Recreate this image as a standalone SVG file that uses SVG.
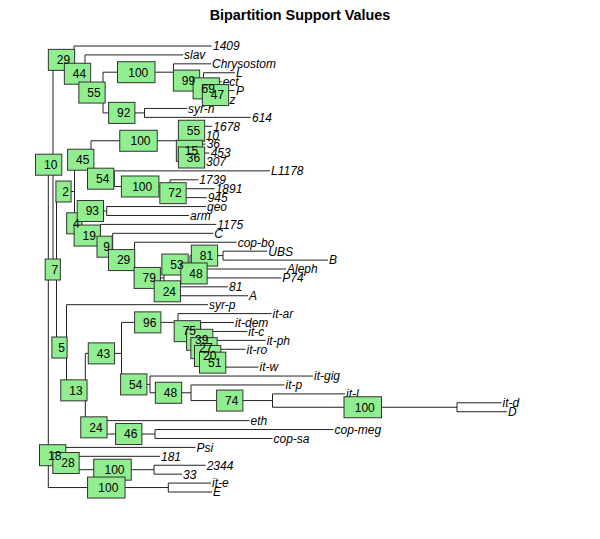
<svg xmlns="http://www.w3.org/2000/svg" width="600" height="539" viewBox="0 0 600 539">
<style>
.e{stroke:#222;stroke-width:1;fill:none}
.t{font-family:"Liberation Sans",Arial,sans-serif;font-style:italic;font-size:12px;fill:#000}
.f rect{fill:#90EE90;stroke:#333;stroke-width:1}
.b text{font-family:"Liberation Sans",Arial,sans-serif;font-size:12px;text-anchor:middle;fill:#000}
.ti{font-family:"Liberation Sans",Arial,sans-serif;font-weight:bold;font-size:14.4px;text-anchor:middle}
</style>
<rect width="600" height="539" fill="#fff"/>
<text class="ti" x="300" y="20">Bipartition Support Values</text>
<g id="edges" class="e">
<path d="M48.3,164.69V487.54M48.3,164.69H53M48.3,455.2H61M48.3,487.54H168.3"/>
<path d="M53,59.87V269.51M53,59.87H74M53,269.51H56.5"/>
<path d="M74,46V73.74M74,46H211.7M74,73.74H85"/>
<path d="M85,54.92V92.55M85,54.92H183M85,92.55H103"/>
<path d="M103,72.2V112.9M103,72.2H173.5M103,112.9H144.5"/>
<path d="M173.5,63.84V80.57M173.5,63.84H211M173.5,80.57H203.5"/>
<path d="M203.5,72.76V88.37M203.5,72.76H235M203.5,88.37H213"/>
<path d="M213,81.68V95.06M213,81.68H221.7M213,95.06H222"/>
<path d="M222,90.6V99.52M222,90.6H234.5M222,99.52H228.5"/>
<path d="M144.5,108.44V117.36M144.5,108.44H187M144.5,117.36H250.7"/>
<path d="M56.5,191.51V347.52M56.5,191.51H74.5M56.5,347.52H66.5"/>
<path d="M74.5,159.73V223.29M74.5,159.73H91M74.5,223.29H78"/>
<path d="M91,140.78V178.69M91,140.78H190M91,178.69H114.3"/>
<path d="M190,130.74V150.81M190,130.74H197M190,150.81H193"/>
<path d="M197,126.28V135.2M197,126.28H212M197,135.2H204.5"/>
<path d="M193,144.12V157.5M193,144.12H205.5M193,157.5H194"/>
<path d="M194,153.04V161.96M194,153.04H209.5M194,161.96H205"/>
<path d="M114.3,170.88V186.49M114.3,170.88H270M114.3,186.49H170"/>
<path d="M170,179.8V193.18M170,179.8H198.3M170,193.18H180"/>
<path d="M180,188.72V197.64M180,188.72H214.7M180,197.64H206.7"/>
<path d="M78,211.02V235.55M78,211.02H106.7M78,235.55H100.5"/>
<path d="M106.7,206.56V215.48M106.7,206.56H206M106.7,215.48H189"/>
<path d="M100.5,224.4V246.7M100.5,224.4H216.3M100.5,246.7H112.7"/>
<path d="M112.7,233.32V260.08M112.7,233.32H213.3M112.7,260.08H134.5"/>
<path d="M134.5,242.24V277.92M134.5,242.24H236.7M134.5,277.92H164"/>
<path d="M164,264.54V291.3M164,264.54H190M164,291.3H174.7"/>
<path d="M190,255.62V273.46M190,255.62H223M190,273.46H202"/>
<path d="M223,251.16V260.08M223,251.16H267.3M223,260.08H328"/>
<path d="M202,269V277.92M202,269H286M202,277.92H281.3"/>
<path d="M174.7,286.84V295.76M174.7,286.84H228M174.7,295.76H248"/>
<path d="M66.5,304.68V390.36M66.5,304.68H208M66.5,390.36H85.3"/>
<path d="M85.3,353.39V427.33M85.3,353.39H121.5M85.3,427.33H106.5"/>
<path d="M121.5,322.38V384.4M121.5,322.38H178M121.5,384.4H150"/>
<path d="M178,313.6V331.16M178,313.6H271.5M178,331.16H200.7"/>
<path d="M200.7,322.52V339.8M200.7,322.52H234M200.7,339.8H202.7"/>
<path d="M202.7,331.44V348.17M202.7,331.44H247.3M202.7,348.17H209.3"/>
<path d="M209.3,340.36V355.97M209.3,340.36H265.7M209.3,355.97H210"/>
<path d="M210,349.28V362.66M210,349.28H245.5M210,362.66H219.3"/>
<path d="M219.3,358.2V367.12M219.3,367.12H258.5"/>
<path d="M150,376.04V392.77M150,376.04H313M150,392.77H191"/>
<path d="M191,384.96V400.57M191,384.96H284.5M191,400.57H272.5"/>
<path d="M272.5,393.88V407.26M272.5,393.88H345M272.5,407.26H457"/>
<path d="M457,402.8V411.72M457,402.8H501.5M457,411.72H507"/>
<path d="M106.5,420.64V434.02M106.5,420.64H249.5M106.5,434.02H155"/>
<path d="M155,429.56V438.48M155,429.56H333.5M155,438.48H272.5"/>
<path d="M61,447.4V463.01M61,447.4H195.5M61,463.01H75"/>
<path d="M75,456.32V469.7M75,456.32H160M75,469.7H154"/>
<path d="M154,465.24V474.16M154,465.24H205.7M154,474.16H182"/>
<path d="M168.3,483.08V492M168.3,483.08H211M168.3,492H212"/>
</g>
<g id="tips" class="t">
<text id="tip-1409" x="213" y="50.3">1409</text>
<text id="tip-slav" x="184" y="59.2">slav</text>
<text id="tip-Chrysostom" x="212" y="68.1">Chrysostom</text>
<text id="tip-L" x="236" y="77.1">L</text>
<text id="tip-ect" x="222.7" y="86">ect</text>
<text id="tip-P" x="236" y="94.9">P</text>
<text id="tip-z" x="229.5" y="103.8">z</text>
<text id="tip-syr-n" x="188" y="112.7">syr-n</text>
<text id="tip-614" x="252" y="121.7">614</text>
<text id="tip-1678" x="213.3" y="130.6">1678</text>
<text id="tip-10" x="205.7" y="139.5">10</text>
<text id="tip-36" x="206.7" y="148.4">36</text>
<text id="tip-453" x="210.7" y="157.3">453</text>
<text id="tip-307" x="206" y="166.3">307</text>
<text id="tip-L1178" x="271" y="175.2">L1178</text>
<text id="tip-1739" x="199.3" y="184.1">1739</text>
<text id="tip-1891" x="215.7" y="193">1891</text>
<text id="tip-945" x="207.7" y="201.9">945</text>
<text id="tip-geo" x="207" y="210.9">geo</text>
<text id="tip-arm" x="190" y="219.8">arm</text>
<text id="tip-1175" x="217.3" y="228.7">1175</text>
<text id="tip-C" x="214.3" y="237.6">C</text>
<text id="tip-cop-bo" x="237.7" y="246.5">cop-bo</text>
<text id="tip-UBS" x="268.3" y="255.5">UBS</text>
<text id="tip-B" x="329" y="264.4">B</text>
<text id="tip-Aleph" x="287" y="273.3">Aleph</text>
<text id="tip-P74" x="282.3" y="282.2">P74</text>
<text id="tip-81" x="229" y="291.1">81</text>
<text id="tip-A" x="249" y="300.1">A</text>
<text id="tip-syr-p" x="209" y="309">syr-p</text>
<text id="tip-it-ar" x="272.5" y="317.9">it-ar</text>
<text id="tip-it-dem" x="235" y="326.8">it-dem</text>
<text id="tip-it-c" x="248.3" y="335.7">it-c</text>
<text id="tip-it-ph" x="266.7" y="344.7">it-ph</text>
<text id="tip-it-ro" x="246.5" y="353.6">it-ro</text>
<text id="tip-it-w" x="259.5" y="371.4">it-w</text>
<text id="tip-it-gig" x="314" y="380.3">it-gig</text>
<text id="tip-it-p" x="285.5" y="389.3">it-p</text>
<text id="tip-it-l" x="346" y="398.2">it-l</text>
<text id="tip-it-d" x="502.5" y="407.1">it-d</text>
<text id="tip-D" x="508" y="416">D</text>
<text id="tip-eth" x="250.5" y="424.9">eth</text>
<text id="tip-cop-meg" x="334.5" y="433.9">cop-meg</text>
<text id="tip-cop-sa" x="273.5" y="442.8">cop-sa</text>
<text id="tip-Psi" x="196.5" y="451.7">Psi</text>
<text id="tip-181" x="161" y="460.6">181</text>
<text id="tip-2344" x="206.7" y="469.5">2344</text>
<text id="tip-33" x="183" y="478.5">33</text>
<text id="tip-it-e" x="212" y="487.4">it-e</text>
<text id="tip-E" x="213" y="496.3">E</text>
</g>
<g id="frames" class="f">
<rect id="f10" x="35.5" y="154.19" width="26.3" height="21"/>
<rect id="f29" x="48.35" y="49.37" width="26.3" height="21"/>
<rect id="f44" x="64.35" y="63.24" width="26.3" height="21"/>
<rect id="f55" x="78.85" y="82.05" width="26.3" height="21"/>
<rect id="f100a" x="117.5" y="61.7" width="37.5" height="21"/>
<rect id="f99" x="173.35" y="70.07" width="26.3" height="21"/>
<rect id="f69" x="193.1" y="77.87" width="26.3" height="21"/>
<rect id="f47" x="202.35" y="84.56" width="26.3" height="21"/>
<rect id="f92" x="108.6" y="102.4" width="26.3" height="21"/>
<rect id="f7" x="45.15" y="259.01" width="15.2" height="21"/>
<rect id="f2" x="55.9" y="181.01" width="15.2" height="21"/>
<rect id="f45" x="67.6" y="149.23" width="26.3" height="21"/>
<rect id="f100b" x="119.75" y="130.28" width="37.5" height="21"/>
<rect id="f55b" x="178.35" y="120.24" width="26.3" height="21"/>
<rect id="f15" x="176.35" y="140.31" width="26.3" height="21"/>
<rect id="f36" x="178.35" y="147" width="26.3" height="21"/>
<rect id="f54b" x="87.5" y="168.19" width="26.3" height="21"/>
<rect id="f100c" x="121.4" y="175.99" width="37.5" height="21"/>
<rect id="f72" x="159.85" y="182.68" width="26.3" height="21"/>
<rect id="f4" x="66.65" y="212.79" width="15.2" height="21"/>
<rect id="f93" x="77.2" y="200.52" width="26.3" height="21"/>
<rect id="f19" x="74.1" y="225.05" width="26.3" height="21"/>
<rect id="f9" x="97" y="236.2" width="15.2" height="21"/>
<rect id="f29b" x="108.45" y="249.58" width="26.3" height="21"/>
<rect id="f79" x="134.1" y="267.42" width="26.3" height="21"/>
<rect id="f53" x="161.85" y="254.04" width="26.3" height="21"/>
<rect id="f81" x="191.35" y="245.12" width="26.3" height="21"/>
<rect id="f48b" x="180.85" y="262.96" width="26.3" height="21"/>
<rect id="f24b" x="154.2" y="280.8" width="26.3" height="21"/>
<rect id="f5" x="51.9" y="337.02" width="15.2" height="21"/>
<rect id="f13" x="60.75" y="379.86" width="26.3" height="21"/>
<rect id="f43" x="88.25" y="342.89" width="26.3" height="21"/>
<rect id="f96" x="134.6" y="311.88" width="26.3" height="21"/>
<rect id="f75" x="174.2" y="320.66" width="26.3" height="21"/>
<rect id="f39" x="186.55" y="329.3" width="26.3" height="21"/>
<rect id="f27" x="190.85" y="337.67" width="26.3" height="21"/>
<rect id="f20" x="194.5" y="345.47" width="26.3" height="21"/>
<rect id="f51" x="199.5" y="352.16" width="26.3" height="21"/>
<rect id="f54" x="120.6" y="373.9" width="26.3" height="21"/>
<rect id="f48" x="155.35" y="382.27" width="26.3" height="21"/>
<rect id="f74" x="216.6" y="390.07" width="26.3" height="21"/>
<rect id="f100d" x="344" y="396.76" width="37.5" height="21"/>
<rect id="f24" x="80.75" y="416.83" width="26.3" height="21"/>
<rect id="f46" x="115.6" y="423.52" width="26.3" height="21"/>
<rect id="f18" x="39.5" y="444.7" width="26.3" height="21"/>
<rect id="f28" x="52.85" y="452.51" width="26.3" height="21"/>
<rect id="f100e" x="93.75" y="459.2" width="37.5" height="21"/>
<rect id="f100f" x="87.55" y="477.04" width="37.5" height="21"/>
</g>
<g class="b">
<g id="n10"><text x="50.65" y="168.99">10</text></g>
<g id="n29"><text x="63.5" y="64.17">29</text></g>
<g id="n44"><text x="79.5" y="78.04">44</text></g>
<g id="n55"><text x="94" y="96.85">55</text></g>
<g id="n100a"><text x="138.25" y="76.5">100</text></g>
<g id="n99"><text x="188.5" y="84.87">99</text></g>
<g id="n69"><text x="208.25" y="92.67">69</text></g>
<g id="n47"><text x="217.5" y="99.36">47</text></g>
<g id="n92"><text x="123.75" y="117.2">92</text></g>
<g id="n7"><text x="54.75" y="273.81">7</text></g>
<g id="n2"><text x="65.5" y="195.81">2</text></g>
<g id="n45"><text x="82.75" y="164.03">45</text></g>
<g id="n100b"><text x="140.5" y="145.08">100</text></g>
<g id="n55b"><text x="193.5" y="135.04">55</text></g>
<g id="n15"><text x="191.5" y="155.11">15</text></g>
<g id="n36"><text x="193.5" y="161.8">36</text></g>
<g id="n54b"><text x="102.65" y="182.99">54</text></g>
<g id="n100c"><text x="142.15" y="190.79">100</text></g>
<g id="n72"><text x="175" y="197.48">72</text></g>
<g id="n4"><text x="76.25" y="227.59">4</text></g>
<g id="n93"><text x="92.35" y="215.32">93</text></g>
<g id="n19"><text x="89.25" y="239.85">19</text></g>
<g id="n9"><text x="106.6" y="251">9</text></g>
<g id="n29b"><text x="123.6" y="264.38">29</text></g>
<g id="n79"><text x="149.25" y="282.22">79</text></g>
<g id="n53"><text x="177" y="268.84">53</text></g>
<g id="n81"><text x="206.5" y="259.92">81</text></g>
<g id="n48b"><text x="196" y="277.76">48</text></g>
<g id="n24b"><text x="169.35" y="295.6">24</text></g>
<g id="n5"><text x="61.5" y="351.82">5</text></g>
<g id="n13"><text x="75.9" y="394.66">13</text></g>
<g id="n43"><text x="103.4" y="357.69">43</text></g>
<g id="n96"><text x="149.75" y="326.68">96</text></g>
<g id="n75"><text x="189.35" y="335.46">75</text></g>
<g id="n39"><text x="201.7" y="344.1">39</text></g>
<g id="n27"><text x="206" y="352.47">27</text></g>
<g id="n20"><text x="209.65" y="360.27">20</text></g>
<g id="n51"><text x="214.65" y="366.96">51</text></g>
<g id="n54"><text x="135.75" y="388.7">54</text></g>
<g id="n48"><text x="170.5" y="397.07">48</text></g>
<g id="n74"><text x="231.75" y="404.87">74</text></g>
<g id="n100d"><text x="364.75" y="411.56">100</text></g>
<g id="n24"><text x="95.9" y="431.63">24</text></g>
<g id="n46"><text x="130.75" y="438.32">46</text></g>
<g id="n18"><text x="54.65" y="459.5">18</text></g>
<g id="n28"><text x="68" y="467.31">28</text></g>
<g id="n100e"><text x="114.5" y="474">100</text></g>
<g id="n100f"><text x="108.3" y="491.84">100</text></g>
</g>
</svg>
